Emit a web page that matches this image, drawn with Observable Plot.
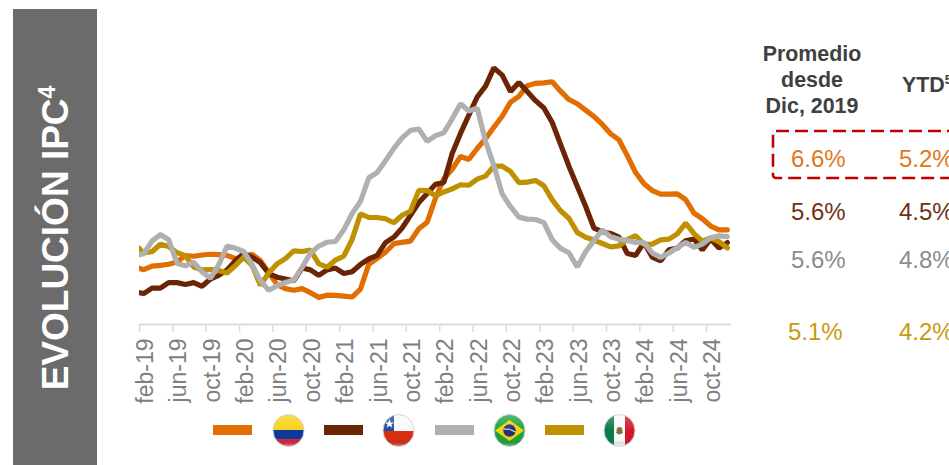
<!DOCTYPE html>
<html lang="es"><head><meta charset="utf-8">
<script src="https://cdn.jsdelivr.net/npm/d3@7"></script>
<script src="https://cdn.jsdelivr.net/npm/@observablehq/plot@0.6"></script>
<style>
html,body{margin:0;padding:0;background:#fff;width:949px;height:465px;overflow:hidden;font-family:"Liberation Sans",Arial,sans-serif}
#page{position:relative;width:949px;height:465px;overflow:hidden}
#chart{position:absolute;left:0;top:0}
#panel{position:absolute;left:13px;top:9px;width:84px;height:456px;background:#6b6b6b}
#title{position:absolute;left:56px;top:238px;transform:translate(-50%,-50%) rotate(-90deg);white-space:nowrap;color:#fff;font-weight:700;font-size:37px;line-height:40px}
#title sup{font-size:23px;line-height:0;vertical-align:baseline;position:relative;top:-13px}
.hd{position:absolute;font-weight:700;font-size:21.4px;line-height:26px;color:#404040;text-align:center;white-space:nowrap}
.val{position:absolute;font-size:24px;line-height:28px;white-space:nowrap}
#box{position:absolute;left:0;top:0}
#legend div{position:absolute}
.sw{top:425px;width:39px;height:10px}
.fl{top:414px;width:33px;height:33px}
</style></head><body>
<div id="page">
<div id="panel"></div>
<div id="title">EVOLUCIÓN IPC<sup>4</sup></div>
<div id="chart"></div>
<div class="hd" style="left:752px;top:41px;width:120px">Promedio<br>desde<br>Dic, 2019</div>
<div class="hd" style="left:902px;top:72px">YTD<sup style="font-size:13px;line-height:0">5</sup></div>
<svg id="box" width="949" height="465"><rect x="773" y="131" width="250" height="47" rx="3" fill="none" stroke="#c00000" stroke-width="2.6" stroke-dasharray="13 6"/></svg>
<div id="rows"></div>
<div id="legend"></div>
</div>
<script>
const tickIndex = [0,4,8,12,16,20,24,28,32,36,40,44,48,52,56,60,64,68];
const tickLabels = ["feb-19","jun-19","oct-19","feb-20","jun-20","oct-20","feb-21","jun-21","oct-21","feb-22","jun-22","oct-22","feb-23","jun-23","oct-23","feb-24","jun-24","oct-24"];
// monthly values, ene-19 to dic-24
const colombia = [3.15,3.01,3.21,3.25,3.31,3.43,3.79,3.75,3.82,3.86,3.84,3.80,3.62,3.72,3.86,3.51,2.85,2.19,1.97,1.88,1.97,1.75,1.49,1.61,1.60,1.56,1.51,1.95,3.30,3.63,3.97,4.44,4.51,4.58,5.26,5.62,6.94,8.01,8.53,9.23,9.07,9.67,10.21,10.84,11.44,12.22,12.53,13.12,13.25,13.28,13.34,12.82,12.36,12.13,11.78,11.43,10.99,10.48,10.15,9.28,8.35,7.74,7.36,7.16,7.16,7.18,6.86,6.12,5.81,5.41,5.20,5.20];
const chile = [1.8,1.7,2.0,2.0,2.3,2.3,2.2,2.3,2.1,2.5,2.7,3.0,3.5,3.9,3.7,3.4,2.8,2.6,2.5,2.4,3.1,3.0,2.7,3.0,3.1,2.8,2.9,3.3,3.6,3.8,4.5,4.8,5.3,6.0,6.7,7.2,7.7,7.8,9.4,10.5,11.5,12.5,13.1,14.1,13.7,12.8,13.3,12.8,12.3,11.9,11.1,9.9,8.7,7.6,6.5,5.3,5.1,5.0,4.8,3.9,3.8,4.5,3.7,3.5,4.1,4.2,4.6,4.7,4.1,4.7,4.2,4.5];
const brasil = [3.78,3.89,4.58,4.94,4.66,3.37,3.22,3.43,2.89,2.54,3.27,4.31,4.19,4.01,3.30,2.40,1.88,2.13,2.31,2.44,3.14,3.92,4.31,4.52,4.56,5.20,6.10,6.76,8.06,8.35,8.99,9.68,10.25,10.67,10.74,10.06,10.38,10.54,11.30,12.13,11.73,11.89,10.07,8.73,7.17,6.47,5.90,5.79,5.77,5.60,4.65,4.18,3.94,3.16,3.99,4.61,5.19,4.82,4.68,4.62,4.51,4.50,3.93,3.69,3.93,4.23,4.50,4.24,4.42,4.76,4.87,4.83];
const mexico = [4.37,3.94,4.00,4.41,4.28,3.95,3.78,3.16,3.00,3.02,2.97,2.83,3.24,3.70,3.25,2.15,2.84,3.33,3.62,4.05,4.01,4.09,3.33,3.15,3.54,3.76,4.67,6.08,5.89,5.88,5.81,5.59,6.00,6.24,7.37,7.36,7.07,7.28,7.45,7.68,7.65,7.99,8.15,8.70,8.70,8.41,7.80,7.82,7.91,7.62,6.85,6.25,5.84,5.06,4.79,4.64,4.45,4.26,4.32,4.66,4.88,4.40,4.42,4.65,4.69,4.98,5.57,4.99,4.58,4.76,4.55,4.21];
const promedio = ["6.6%","5.6%","5.6%","5.1%"];
const ytd = ["5.2%","4.5%","4.8%","4.2%"];
const colors = {colombia:"#e26d00",chile:"#6a2604",brasil:"#b0b0b0",mexico:"#bf9000"};
const valueColors = ["#e0781c","#6f3213","#8c8c8c","#c79a10"];
const rowTops = [145,198,246,318];

const line = (values, color) => Plot.line(values, {x:(d,i)=>i-0.5, y:d=>d, stroke:color, strokeWidth:5.2, strokeLinejoin:"miter", curve:"linear", clip:true});

const plot = Plot.plot({
  width:949, height:420,
  marginLeft:139, marginRight:218, marginTop:51, marginBottom:96,
  style:{background:"transparent",fontFamily:'"Liberation Sans",Arial,sans-serif',overflow:"visible"},
  x:{type:"linear",domain:[0,71],axis:null},
  y:{domain:[0,15],axis:null},
  marks:[
    Plot.ruleY([0],{stroke:"#dcdcdc",strokeWidth:2}),
    Plot.axisX({ticks:tickIndex,tickSize:8,stroke:"#dcdcdc",strokeWidth:1.5,tickFormat:()=>"",label:null}),
    Plot.axisX({ticks:tickIndex.map(d=>d+0.5),tickSize:0,tickPadding:14,tickRotate:-90,fontSize:23,dx:2,fill:"#808080",label:null,
      tickFormat:d=>tickLabels[tickIndex.indexOf(d-0.5)]}),
    line(colombia,colors.colombia),
    line(chile,colors.chile),
    line(mexico,colors.mexico),
    line(brasil,colors.brasil)
  ]
});
document.getElementById("chart").append(plot);

const rows = document.getElementById("rows");
promedio.forEach((t,i)=>{
  rows.insertAdjacentHTML("beforeend",`<div class="val" style="left:${i==3?788:791}px;top:${rowTops[i]}px;color:${valueColors[i]}">${t}</div><div class="val" style="left:899px;top:${rowTops[i]}px;color:${valueColors[i]}">${ytd[i]}</div>`);
});

const gloss = `<ellipse cx="16.5" cy="16.5" rx="15.5" ry="16" fill="url(#gl)"/><ellipse cx="16.5" cy="16.5" rx="15.5" ry="16" fill="none" stroke="#d4d4d4" stroke-width="1"/>`;
const defs = `<defs><clipPath id="CID"><ellipse cx="16.5" cy="16.5" rx="15.5" ry="16"/></clipPath>
<linearGradient id="gl" x1="0" y1="0" x2="0" y2="1"><stop offset="0" stop-color="#fff" stop-opacity=".25"/><stop offset=".5" stop-color="#fff" stop-opacity="0"/><stop offset=".8" stop-color="#000" stop-opacity="0"/><stop offset="1" stop-color="#fff" stop-opacity=".45"/></linearGradient></defs>`;
const flags = {
 col:`<rect width="33" height="16" fill="#fbd116"/><rect y="16" width="33" height="9" fill="#0b3a9b"/><rect y="25" width="33" height="8" fill="#d8243a"/>`,
 chi:`<rect width="33" height="17" fill="#fafafa"/><rect y="17" width="33" height="16" fill="#d62f12"/><rect width="12" height="17" fill="#1d4ea0"/><path d="M7.5 5l1.2 3.4h3.4l-2.8 2 1 3.4-2.8-2-2.8 2 1-3.4-2.8-2h3.4z" fill="#fff"/>`,
 bra:`<rect width="33" height="33" fill="#1ea33c"/><path d="M2 16.5L16.5 6 31 16.5 16.5 27z" fill="#f4d20c"/><circle cx="16.5" cy="16.5" r="6.2" fill="#24307e"/><path d="M10.6 15q6-1 11.8 3" stroke="#fff" stroke-width="1" fill="none"/>`,
 mex:`<rect width="11" height="33" fill="#0b7a4b"/><rect x="11" width="11" height="33" fill="#fafafa"/><rect x="22" width="11" height="33" fill="#d3182e"/><ellipse cx="16.5" cy="16.5" rx="3" ry="3.4" fill="#8a6d3b"/><path d="M13 18q3.500 4 7 0" stroke="#3a8a4e" stroke-width="1" fill="none"/>`
};
const legendItems = [["col",colors.colombia,213,272],["chi",colors.chile,324,382],["bra",colors.brasil,435,493],["mex",colors.mexico,545,603]];
const lg = document.getElementById("legend");
legendItems.forEach(([k,c,sx,fx])=>{
  const d = defs.replace("CID","c"+k);
  lg.insertAdjacentHTML("beforeend",`<div class="sw" style="left:${sx}px;background:${c}"></div><div class="fl" style="left:${fx}px"><svg width="33" height="33" viewBox="0 0 33 33">${d}<g clip-path="url(#c${k})">${flags[k]}</g>${gloss}</svg></div>`);
});
</script>
</body></html>
